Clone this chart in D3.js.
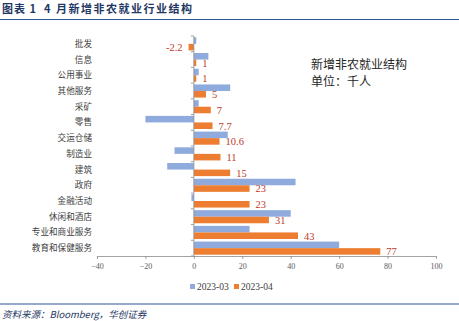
<!DOCTYPE html>
<html><head><meta charset="utf-8">
<script src="https://cdn.jsdelivr.net/npm/d3@7"></script>
<style>body{margin:0;background:#fff}svg{display:block}</style>
</head><body>
<svg id="c" width="459" height="321"></svg>
<script>
const categories = ["批发","信息","公用事业","其他服务","采矿","零售","交运仓储","制造业","建筑","政府","金融活动","休闲和酒店","专业和商业服务","教育和保健服务"];
const mar2023 = [1, 6, 2, 15, 2, -20, 14, -8, -11, 42, -1, 40, 23, 60];
const apr2023 = [-2.2, 1, 1, 5, 7, 7.7, 10.6, 11, 15, 23, 23, 31, 43, 77];
const aprLabels = ["-2.2","1","1","5","7","7.7","10.6","11","15","23","23","31","43","77"];
const xTicks = [-40,-20,0,20,40,60,80,100];
const seriesNames = ["2023-03","2023-04"];
const colors = ["#8faadc","#ed7d31"];

const svg = d3.select("#c");
const x = d3.scaleLinear().domain([-40,100]).range([97,436]);
const y = d3.scaleBand().domain(categories).range([36,256]).paddingInner(0).paddingOuter(0);
const sub = d3.scaleBand().domain([0,1]).range([0,y.bandwidth()]).paddingInner(0).paddingOuter(0.2);

// title
svg.append("text").attr("x",2).attr("y",13).attr("font-family","Noto Sans CJK SC").attr("font-weight","bold")
  .attr("font-size",11).attr("letter-spacing",1).attr("fill","#1f3864").text("图表 1");
svg.append("text").attr("x",44).attr("y",13).attr("font-family","Noto Sans CJK SC").attr("font-weight","bold")
  .attr("font-size",11).attr("letter-spacing",1.5).attr("fill","#1f3864").text("4 月新增非农就业行业结构");
svg.append("line").attr("x1",0).attr("x2",459).attr("y1",19.5).attr("y2",19.5).attr("stroke","#2f5597").attr("stroke-width",1.2);

// bars
const series = [mar2023, apr2023];
series.forEach((vals,si)=>{
  svg.append("g").selectAll("rect").data(vals).join("rect")
    .attr("x",d=>x(Math.min(0,d))).attr("width",d=>Math.abs(x(d)-x(0)))
    .attr("y",(d,i)=>y(categories[i])+sub(si)).attr("height",sub.bandwidth())
    .attr("fill",colors[si]);
});

// value labels
svg.append("g").selectAll("text").data(apr2023).join("text")
  .attr("x",d=> d<0 ? x(d)-6 : x(d)+6)
  .attr("y",(d,i)=>y(categories[i])+sub(1)+sub.bandwidth()/2+3.8)
  .attr("text-anchor",d=>d<0?"end":"start")
  .attr("font-family","Liberation Serif").attr("font-size",10.5).attr("fill","#c0392b")
  .text((d,i)=>aprLabels[i]);

// y axis
const ya = svg.append("g");
ya.append("line").attr("x1",x(0)).attr("x2",x(0)).attr("y1",36).attr("y2",256).attr("stroke","#8c8c8c").attr("stroke-width",0.8);
ya.selectAll("line.t").data(d3.range(categories.length+1)).join("line").attr("class","t")
  .attr("x1",x(0)-3).attr("x2",x(0)).attr("y1",i=>36+i*y.bandwidth()).attr("y2",i=>36+i*y.bandwidth())
  .attr("stroke","#8c8c8c").attr("stroke-width",0.8);
svg.append("g").selectAll("text").data(categories).join("text")
  .attr("x",92).attr("y",d=>y(d)+y.bandwidth()/2+3).attr("text-anchor","end")
  .attr("font-family","Noto Sans CJK SC").attr("font-size",8.6).attr("fill","#404040").text(d=>d);

// x axis
const xa = svg.append("g").attr("transform","translate(0,256)")
  .call(d3.axisBottom(x).tickValues(xTicks).tickSize(3).tickSizeOuter(0).tickFormat(d3.format("d")));
xa.select(".domain").attr("stroke","#8c8c8c").attr("stroke-width",0.8);
xa.selectAll(".tick line").attr("stroke","#8c8c8c").attr("stroke-width",0.8);
xa.selectAll("text").attr("font-family","Liberation Serif").attr("font-size",8).attr("fill","#595959").attr("dy","0.9em");

// annotation
svg.append("text").attr("x",311).attr("y",68.5).attr("font-family","Noto Sans CJK SC").attr("font-size",12).attr("fill","#262626").text("新增非农就业结构");
svg.append("text").attr("x",311).attr("y",86).attr("font-family","Noto Sans CJK SC").attr("font-size",12).attr("fill","#262626").text("单位：千人");

// legend
const lg = svg.append("g");
const lx = [190, 234];
seriesNames.forEach((n,i)=>{
  lg.append("rect").attr("x",lx[i]).attr("y",284).attr("width",5).attr("height",5).attr("fill",colors[i]);
  lg.append("text").attr("x",lx[i]+7).attr("y",290).attr("font-family","Liberation Serif").attr("font-size",9.5).attr("fill","#404040").text(n);
});

// footer
svg.append("line").attr("x1",0).attr("x2",459).attr("y1",304).attr("y2",304).attr("stroke","#2f5597").attr("stroke-width",1.2);
svg.append("text").attr("x",2).attr("y",318).attr("font-family","Noto Sans CJK SC").attr("font-style","italic")
  .attr("font-size",9.5).attr("fill","#1f3864").text("资料来源：Bloomberg，华创证券");
</script>
</body></html>
